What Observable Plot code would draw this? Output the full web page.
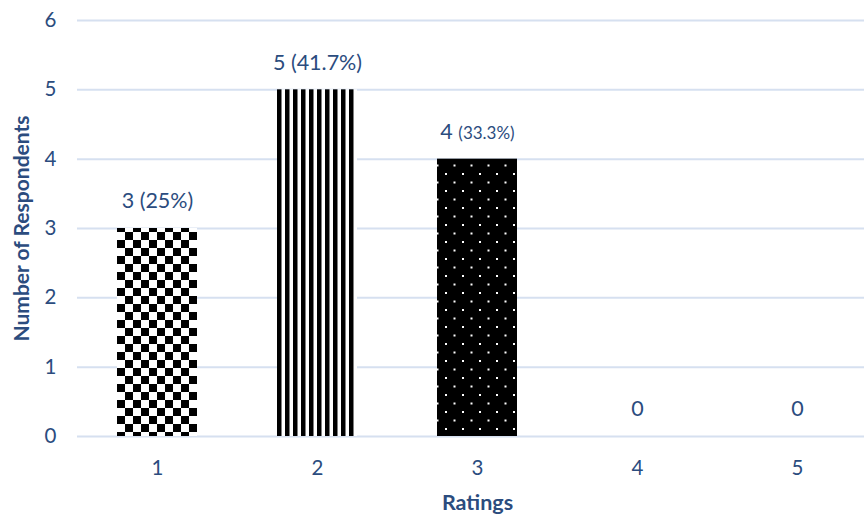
<!DOCTYPE html>
<html>
<head>
<meta charset="utf-8">
<script src="https://cdn.jsdelivr.net/npm/d3@7"></script>
<script src="https://cdn.jsdelivr.net/npm/@observablehq/plot@0.6"></script>
<style>
  html, body { margin: 0; padding: 0; background: #fff; overflow: hidden; }
  svg { display: block; }
</style>
</head>
<body>
<div id="chart"></div>
<script>
const ratings = ["1", "2", "3", "4", "5"];
const respondents = [3, 5, 4, 0, 0];
const valueLabels = ["3 (25%)", "5 (41.7%)", "4 (33.3%)", "0", "0"];
const patterns = ["url(#checker)", "url(#stripes)", "url(#dots)", "none", "none"];
const yTicks = [0, 1, 2, 3, 4, 5, 6];

const data = ratings.map((r, i) => ({rating: r, n: respondents[i], label: valueLabels[i], pattern: patterns[i]}));

const textColor = "#2B4C7E";
const font = "Lato, 'Noto Sans', sans-serif";

const chart = Plot.plot({
  width: 864,
  height: 516,
  marginLeft: 77,
  marginRight: -13,
  marginTop: 20,
  marginBottom: 80,
  style: {fontFamily: font, fontSize: "20px", color: textColor, background: "#fff"},
  x: {domain: ratings, paddingInner: 0.5, paddingOuter: 0.25, label: null},
  y: {domain: [0, 6], label: null},
  color: {type: "identity"},
  marks: [
    Plot.gridY(yTicks, {stroke: "#D6E0F0", strokeOpacity: 1, strokeWidth: 2}),
    Plot.axisY(yTicks, {tickSize: 0, tickPadding: 21, tickFormat: "d", label: null, fill: textColor, fontSize: 20.5}),
    Plot.axisX({tickSize: 0, tickPadding: 24, label: null, fill: textColor, fontSize: 20.5}),
    Plot.barY(data, {x: "rating", y: "n", fill: "pattern"}),
    Plot.text(data, {x: "rating", y: "n", text: "label", dy: -27, fill: textColor, fontSize: 21.5, lineAnchor: "middle"}),
    Plot.text(["Number of Respondents"], {frameAnchor: "left", rotate: -90, textAnchor: "middle", lineAnchor: "middle", dx: -55, fill: textColor, fontWeight: "bold", fontSize: 21}),
    Plot.text(["Ratings"], {frameAnchor: "bottom", lineAnchor: "middle", dy: 67, fill: textColor, fontWeight: "bold", fontSize: 21.5})
  ]
});

d3.select(chart).insert("defs", ":first-child").html(`
  <pattern id="checker" patternUnits="userSpaceOnUse" x="117" y="0" width="16" height="16">
    <rect width="16" height="16" fill="#fff"/>
    <rect width="8" height="8" fill="#000"/>
    <rect x="8" y="8" width="8" height="8" fill="#000"/>
  </pattern>
  <pattern id="stripes" patternUnits="userSpaceOnUse" x="277" y="0" width="8" height="8">
    <rect width="8" height="8" fill="#fff"/>
    <rect width="4.5" height="8" fill="#000"/>
  </pattern>
  <pattern id="dots" patternUnits="userSpaceOnUse" x="437" y="0" width="17" height="17">
    <rect width="17" height="17" fill="#000"/>
    <rect x="8" y="3" width="2" height="2" fill="#fff"/>
    <rect x="16.5" y="11.5" width="2" height="2" fill="#fff"/>
    <rect x="-0.5" y="11.5" width="2" height="2" fill="#fff"/>
  </pattern>
`);

// Make the percentage part of the third label smaller, as in the reference
d3.select(chart).selectAll("text").each(function() {
  const t = d3.select(this);
  if (t.text() === "4 (33.3%)") {
    t.text(null);
    t.append("tspan").text("4 ");
    t.append("tspan").attr("font-size", 17).text("(33.3%)");
  }
});

document.getElementById("chart").appendChild(chart);
</script>
</body>
</html>
